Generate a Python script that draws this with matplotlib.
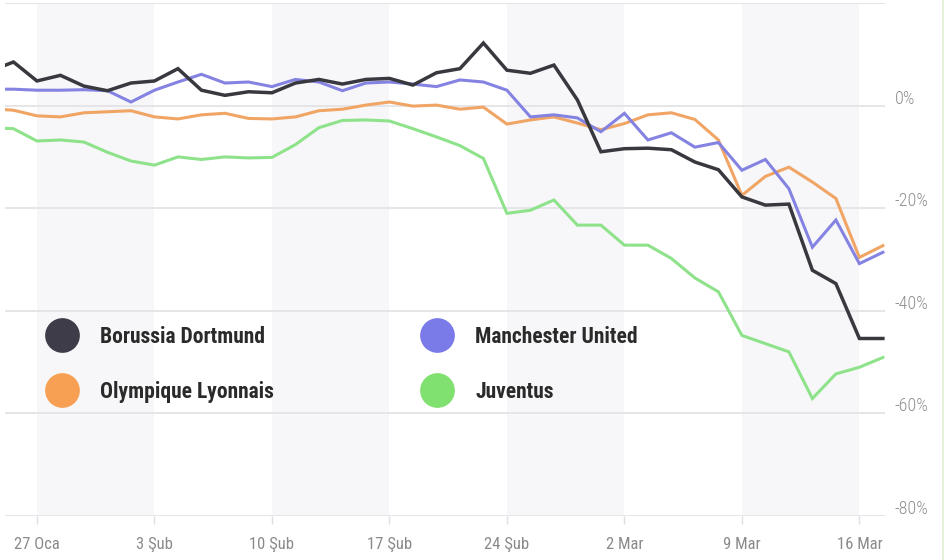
import matplotlib
matplotlib.use("Agg")
import matplotlib.pyplot as plt
import matplotlib.transforms as mtransforms
from matplotlib.lines import Line2D
import numpy as np

# trading days 23 Oca .. 17 Mar 2020, index 0 = 23 Oca
days = np.arange(39)
tick_pos = [2, 7, 12, 17, 22, 27, 32, 37]
tick_labels = ["27 Oca", "3 Şub", "10 Şub", "17 Şub", "24 Şub", "2 Mar", "9 Mar", "16 Mar"]

dortmund = [6.7, 8.5, 4.8, 5.9, 3.8, 2.9, 4.4, 4.8, 7.2, 3.0, 2.0, 2.7, 2.5, 4.4,
            5.1, 4.2, 5.1, 5.3, 4.0, 6.4, 7.2, 12.2, 6.9, 6.3, 7.9, 1.1,
            -9.0, -8.4, -8.3, -8.6, -11.0, -12.5, -17.8, -19.4, -19.2, -32.1,
            -34.7, -45.4, -45.4]
man_utd = [3.2, 3.2, 3.0, 3.0, 3.1, 2.9, 0.7, 3.0, 4.6, 6.1, 4.4, 4.6, 3.7, 5.1,
           4.6, 2.9, 4.4, 4.6, 4.2, 3.7, 5.0, 4.6, 3.0, -2.2, -1.8, -2.4,
           -5.1, -1.5, -6.7, -5.3, -8.1, -7.2, -12.6, -10.5, -16.2, -27.6,
           -22.3, -30.8, -28.6]
lyon = [-0.6, -0.9, -2.0, -2.2, -1.4, -1.2, -1.0, -2.2, -2.6, -1.8, -1.5, -2.5,
        -2.6, -2.2, -1.0, -0.7, 0.1, 0.7, -0.1, 0.1, -0.7, -0.3, -3.6, -2.8,
        -2.2, -3.4, -4.7, -3.5, -1.8, -1.4, -2.7, -6.7, -17.5, -13.8, -12.0,
        -14.9, -18.1, -29.6, -27.3]
juventus = [-4.3, -4.5, -6.9, -6.7, -7.1, -9.1, -10.8, -11.6, -10.0, -10.5, -10.0,
            -10.2, -10.1, -7.6, -4.3, -2.9, -2.8, -3.0, -4.5, -6.1, -7.8, -10.3,
            -21.0, -20.4, -18.4, -23.3, -23.3, -27.2, -27.2, -29.8, -33.6, -36.3,
            -44.8, -46.4, -48.0, -57.1, -52.3, -51.0, -49.1]

y_ticks = [0, -20, -40, -60, -80]
y_labels = ["0%", "-20%", "-40%", "-60%", "-80%"]

names = ["Borussia Dortmund", "Olympique Lyonnais", "Manchester United", "Juventus"]
dot_colors = ["#3d3c48", "#f7a053", "#7a7ae8", "#80e070"]

FONT = ["Roboto Condensed", "DejaVu Sans"]

fig = plt.figure(figsize=(9.46, 5.6), dpi=100)
ax = fig.add_axes([5 / 946, 44 / 560, 880 / 946, 513 / 560])

# weekly shaded bands
for k in range(0, len(tick_pos) - 1, 2):
    ax.axvspan(tick_pos[k], tick_pos[k + 1], color="#f7f7f9", lw=0, zorder=0)

for yv in y_ticks + [20]:
    ax.axhline(yv, color="#e2e2e4", lw=1.2, zorder=1)

ax.plot(days, juventus, color="#8ee28a", lw=2.2, zorder=3, solid_joinstyle="miter")
ax.plot(days, lyon, color="#f0a565", lw=2.2, zorder=4, solid_joinstyle="miter")
ax.plot(days, man_utd, color="#8583e2", lw=2.2, zorder=5, solid_joinstyle="miter")
ax.plot(days, dortmund, color="#38383f", lw=2.5, zorder=6, solid_joinstyle="miter")

ax.set_xlim(0.64, 38.09)
ax.set_ylim(-80, 20)
for s in ax.spines.values():
    s.set_visible(False)

ax.set_xticks(tick_pos)
ax.set_xticklabels(tick_labels, family=FONT, fontsize=12, color="#8a8a8a")
ax.tick_params(axis="x", length=6, width=1, color="#dcdfe6", pad=9)

ax.yaxis.tick_right()
ax.set_yticks(y_ticks)
ax.set_yticklabels(y_labels, family=FONT, fontsize=13, fontweight=300, color="#8f8f8f")
ax.tick_params(axis="y", length=0, pad=7)
offset = mtransforms.ScaledTranslation(0, 9 / 100, fig.dpi_scale_trans)
for lab in ax.get_yticklabels():
    lab.set_transform(lab.get_transform() + offset)

# legend drawn by hand
dot_xy = [(62, 335), (62, 390), (437, 335), (437, 390)]
text_x = [100, 100, 475, 475]
for (px, py), tx, name, col in zip(dot_xy, text_x, names, dot_colors):
    fig.add_artist(Line2D([px / 946], [1 - py / 560], marker="o", markersize=25,
                          color=col, markeredgewidth=0, transform=fig.transFigure))
    fig.text(tx / 946, 1 - (py + 2) / 560, name, family=FONT,
             fontweight="bold", fontsize=15.5, color="#2a2a2a", va="center", ha="left")

# faint right border
fig.add_artist(Line2D([943 / 946, 943 / 946], [0, 1], color="#e4f2d8", lw=1.5,
                      transform=fig.transFigure))

fig.savefig("out.png", dpi=100)
